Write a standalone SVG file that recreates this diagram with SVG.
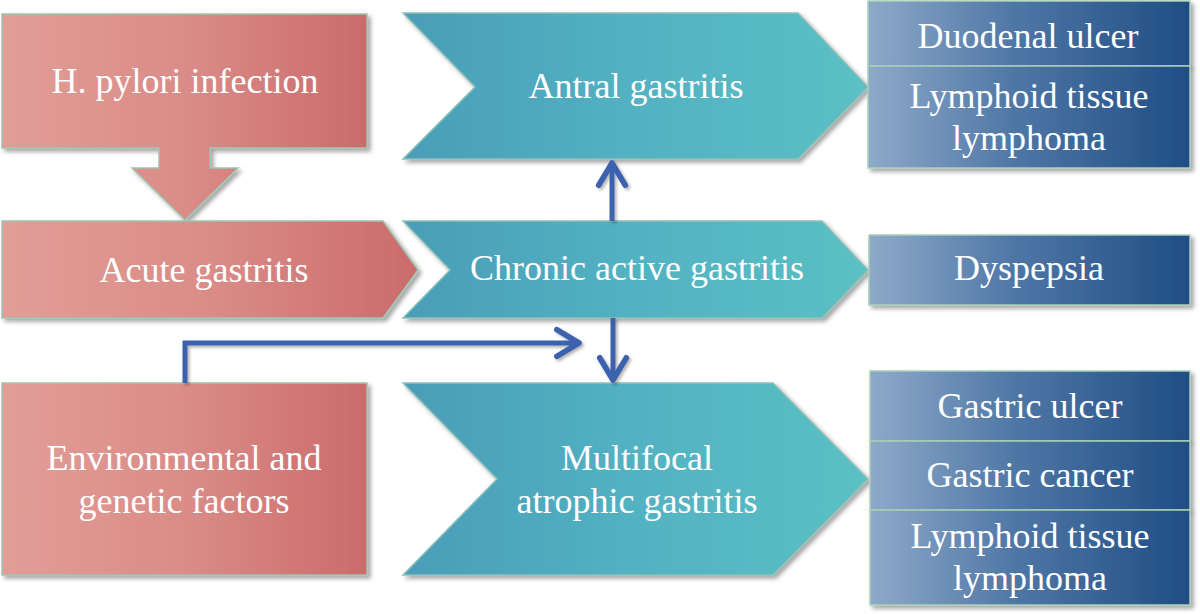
<svg xmlns="http://www.w3.org/2000/svg" width="1200" height="614" viewBox="0 0 1200 614">
<defs>
<linearGradient id="gRed" x1="0" y1="0" x2="1" y2="0"><stop offset="0" stop-color="#e29d97"/><stop offset="0.5" stop-color="#da8c88"/><stop offset="1" stop-color="#cb6b6b"/></linearGradient>
<linearGradient id="gTeal" x1="0" y1="0" x2="1" y2="0"><stop offset="0" stop-color="#4b9db8"/><stop offset="0.5" stop-color="#52b2c2"/><stop offset="1" stop-color="#5bc0c4"/></linearGradient>
<linearGradient id="gBlue" x1="0" y1="0" x2="1" y2="0"><stop offset="0" stop-color="#8eaac9"/><stop offset="0.45" stop-color="#4f77a6"/><stop offset="1" stop-color="#1f4d84"/></linearGradient>
<filter id="sh" x="-5%" y="-5%" width="115%" height="120%"><feDropShadow dx="3" dy="3" stdDeviation="2" flood-color="#000" flood-opacity="0.35"/></filter>
<filter id="sh2" filterUnits="userSpaceOnUse" x="0" y="0" width="1200" height="614"><feDropShadow dx="2" dy="2" stdDeviation="1.5" flood-color="#000" flood-opacity="0.3"/></filter>
<marker id="ah" markerUnits="userSpaceOnUse" markerWidth="40" markerHeight="40" refX="0" refY="0" viewBox="-25 -18 30 36" orient="auto" overflow="visible">
<path d="M-20,-12 L0,0 L-20,12" fill="none" stroke="#3d62ad" stroke-width="5" stroke-linecap="round" stroke-linejoin="round"/>
</marker>
</defs>
<style>
.red{fill:url(#gRed);stroke:#9fc3b0;stroke-width:1.5;filter:url(#sh)}
.teal{fill:url(#gTeal);stroke:#8fc0b8;stroke-width:1.5;filter:url(#sh)}
.blue{fill:url(#gBlue);stroke:#a9d0b8;stroke-width:1.5;filter:url(#sh)}
.t{font-size:36px;fill:#ffffff;text-anchor:middle}
.c{fill:none;stroke:#3d62ad;stroke-width:5;stroke-linejoin:miter;filter:url(#sh2)}
</style>
<g font-family="'Liberation Serif', Tinos, 'Times New Roman', 'DejaVu Serif', serif">
<g id="h-pylori">
<path class="red" d="M2,14 H367 V148 H210 V168 H238 L185,220 L132,168 H159 V148 H2 Z"/>
<text class="t" x="185" y="93">H. pylori infection</text>
</g>
<g id="acute">
<path class="red" d="M2,221 H383 L418,270 L383,318 H2 Z"/>
<text class="t" x="204" y="282">Acute gastritis</text>
</g>
<g id="env">
<rect class="red" x="2" y="383" width="365" height="192"/>
<text class="t" x="184" y="470">Environmental and</text>
<text class="t" x="184" y="513">genetic factors</text>
</g>
<g id="antral">
<path class="teal" d="M403,13 H798 L868,87 L798,159 H403 L475,87 Z"/>
<text class="t" x="636" y="98">Antral gastritis</text>
</g>
<g id="chronic">
<path class="teal" d="M403,221 H822 L868,270 L822,318 H403 L450,270 Z"/>
<text class="t" x="637" y="280">Chronic active gastritis</text>
</g>
<g id="multifocal">
<path class="teal" d="M403,383 H773 L868,479 L773,575 H403 L497,479 Z"/>
<text class="t" x="637" y="470">Multifocal</text>
<text class="t" x="637" y="513">atrophic gastritis</text>
</g>
<g id="duodenal">
<rect class="blue" x="868" y="1" width="322" height="65"/>
<text class="t" x="1028" y="48">Duodenal ulcer</text>
</g>
<g id="lymphoid1">
<rect class="blue" x="868" y="66" width="322" height="102"/>
<text class="t" x="1029" y="108">Lymphoid tissue</text>
<text class="t" x="1029" y="150">lymphoma</text>
</g>
<g id="dyspepsia">
<rect class="blue" x="869" y="235" width="321" height="70"/>
<text class="t" x="1029" y="280">Dyspepsia</text>
</g>
<g id="gastric-ulcer">
<rect class="blue" x="870" y="371" width="320" height="70"/>
<text class="t" x="1030" y="418">Gastric ulcer</text>
</g>
<g id="gastric-cancer">
<rect class="blue" x="870" y="441" width="320" height="69"/>
<text class="t" x="1030" y="487">Gastric cancer</text>
</g>
<g id="lymphoid2">
<rect class="blue" x="870" y="510" width="320" height="95"/>
<text class="t" x="1030" y="548">Lymphoid tissue</text>
<text class="t" x="1030" y="590">lymphoma</text>
</g>
</g>
<g id="connectors">
<path class="c" d="M612,221 V163" marker-end="url(#ah)"/>
<path class="c" d="M613,318 V380" marker-end="url(#ah)"/>
<path class="c" d="M185,383 V343 H579" marker-end="url(#ah)"/>
</g>
</svg>
